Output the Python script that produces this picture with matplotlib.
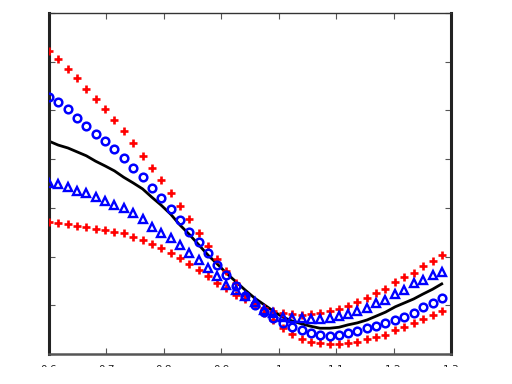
import numpy as np
import matplotlib
matplotlib.use('Agg')
import matplotlib.pyplot as plt
from matplotlib.patches import Rectangle

# sample positions (x)
x = [0.600, 0.616, 0.633, 0.649, 0.665, 0.681, 0.698, 0.714, 0.730, 0.747,
     0.763, 0.779, 0.795, 0.812, 0.828, 0.844, 0.861, 0.877, 0.893, 0.909,
     0.926, 0.942, 0.958, 0.975, 0.991, 1.007, 1.023, 1.040, 1.056, 1.072,
     1.089, 1.105, 1.121, 1.137, 1.154, 1.170, 1.186, 1.203, 1.219, 1.235,
     1.251, 1.268, 1.284]

# black reference curve
y_line = [4.37, 4.29, 4.23, 4.15, 4.07, 3.96, 3.86, 3.76, 3.63, 3.51,
          3.39, 3.22, 3.06, 2.87, 2.65, 2.46, 2.24, 2.03, 1.85, 1.66,
          1.48, 1.31, 1.15, 1.01, 0.88, 0.76, 0.68, 0.62, 0.57, 0.53,
          0.53, 0.55, 0.60, 0.64, 0.70, 0.78, 0.86, 0.97, 1.05, 1.13,
          1.23, 1.33, 1.44]

# red plus, steep one (top left -> bottom right)
y_plus_hi = [6.22, 6.06, 5.85, 5.67, 5.44, 5.24, 5.03, 4.80, 4.58, 4.33,
             4.07, 3.82, 3.57, 3.31, 3.04, 2.77, 2.48, 2.22, 1.95, 1.70,
             1.46, 1.21, 1.01, 0.84, 0.70, 0.53, 0.41, 0.31, 0.25, 0.23,
             0.21, 0.21, 0.23, 0.25, 0.31, 0.35, 0.39, 0.49, 0.55, 0.64,
             0.72, 0.80, 0.88]

# blue circles
y_circ = [5.28, 5.17, 5.03, 4.85, 4.68, 4.52, 4.37, 4.21, 4.02, 3.82,
          3.63, 3.41, 3.20, 2.98, 2.75, 2.51, 2.30, 2.07, 1.83, 1.62,
          1.40, 1.19, 1.01, 0.86, 0.74, 0.64, 0.55, 0.49, 0.43, 0.39,
          0.37, 0.39, 0.43, 0.47, 0.53, 0.57, 0.64, 0.70, 0.76, 0.84,
          0.97, 1.05, 1.15]

# blue triangles
y_tri = [3.51, 3.49, 3.43, 3.35, 3.31, 3.22, 3.14, 3.06, 3.00, 2.90,
         2.77, 2.61, 2.48, 2.38, 2.24, 2.07, 1.93, 1.77, 1.60, 1.42,
         1.31, 1.19, 1.07, 0.90, 0.84, 0.76, 0.74, 0.74, 0.72, 0.72,
         0.74, 0.78, 0.82, 0.88, 0.94, 1.05, 1.11, 1.23, 1.31, 1.46,
         1.52, 1.62, 1.68]

# red plus, flat one (bottom left -> top right)
y_plus_lo = [2.71, 2.69, 2.67, 2.63, 2.61, 2.57, 2.55, 2.51, 2.48, 2.40,
             2.34, 2.26, 2.18, 2.07, 1.97, 1.85, 1.72, 1.60, 1.46, 1.36,
             1.21, 1.13, 1.05, 0.94, 0.88, 0.84, 0.82, 0.80, 0.82, 0.84,
             0.88, 0.92, 0.99, 1.07, 1.15, 1.25, 1.33, 1.48, 1.58, 1.66,
             1.81, 1.91, 2.03]

x_ticks = [0.6, 0.7, 0.8, 0.9, 1.0, 1.1, 1.2, 1.3]
x_tick_labels = ['0.6', '0.7', '0.8', '0.9', '1', '1.1', '1.2', '1.3']


def main():
    fig = plt.figure(figsize=(5.12, 3.84), dpi=100)
    ax = fig.add_axes([0.0957, 0.078, 0.785, 0.888])

    ax.plot(x, y_line, '-', color='black', lw=2.0, zorder=2)
    ax.plot(x, y_plus_hi, '+', color='#ff0000', ms=6, mew=1.9, zorder=3)
    ax.plot(x, y_plus_lo, '+', color='#ff0000', ms=6, mew=1.9, zorder=3)
    ax.plot(x, y_circ, 'o', mfc='none', mec='#0000ff', ms=5.5, mew=1.8, zorder=4)
    ax.plot(x, y_tri, '^', mfc='none', mec='#0000ff', ms=6, mew=1.7, zorder=4)

    ax.set_xlim(0.6, 1.3)
    ax.set_ylim(0, 7)
    ax.set_xticks(x_ticks)
    ax.set_xticklabels(x_tick_labels, fontsize=7.5)
    ax.set_yticks(range(8))
    ax.set_yticklabels([])
    ax.tick_params(direction='in', top=True, right=True, length=4,
                   width=0.8, colors='#555555', pad=8)
    ax.tick_params(axis='x', labelcolor='#222222')

    for side in ['left', 'right']:
        ax.spines[side].set_linewidth(2.2)
        ax.spines[side].set_color('#222222')
    ax.spines['top'].set_linewidth(1.0)
    ax.spines['top'].set_color('#333333')
    ax.spines['bottom'].set_linewidth(1.8)
    ax.spines['bottom'].set_color('#555555')

    # the reference is cut just below the top of the tick labels
    fig.patches.append(Rectangle((0, 0), 1, 17 / 384, transform=fig.transFigure,
                                 facecolor='white', edgecolor='none', zorder=10))

    fig.savefig('out.png', dpi=100)


if __name__ == '__main__':
    main()
